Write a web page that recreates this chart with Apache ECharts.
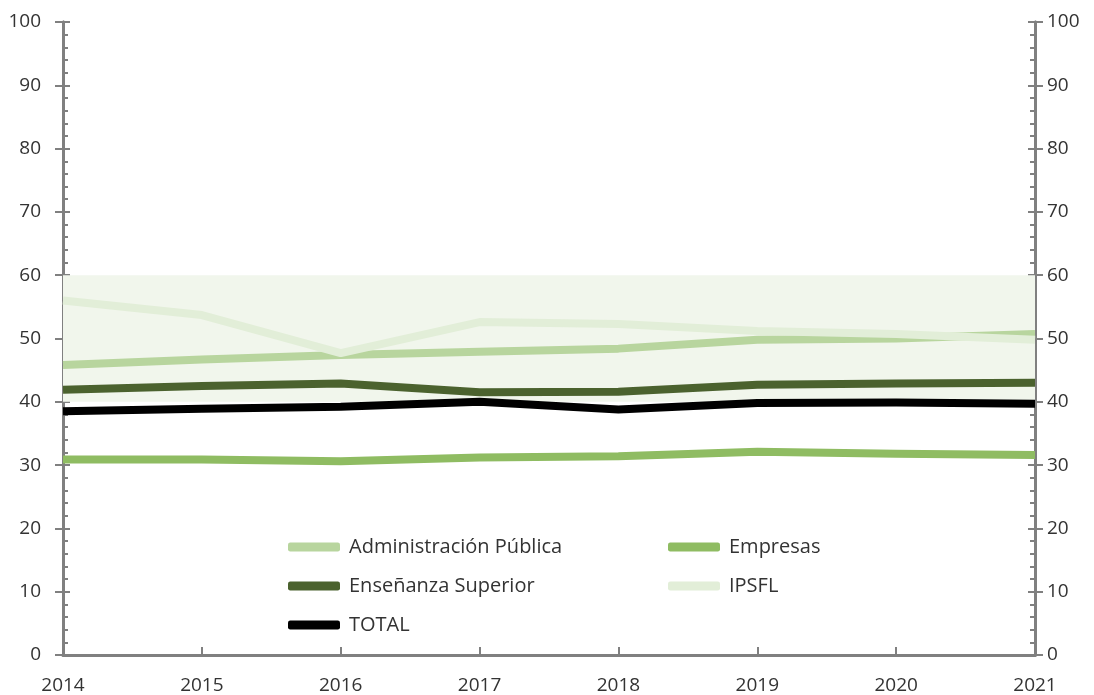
<!DOCTYPE html>
<html>
<head>
<meta charset="utf-8">
<script src="https://cdn.jsdelivr.net/npm/echarts@6/dist/echarts.min.js"></script>
<style>html,body{margin:0;padding:0;background:#fff}#c{width:1094px;height:695px}</style>
</head>
<body>
<div id="c"></div>
<script>
const years = ['2014','2015','2016','2017','2018','2019','2020','2021'];
const adminPublica = [45.8, 46.7, 47.4, 47.9, 48.4, 49.8, 50.0, 50.7];
const empresas = [30.9, 30.9, 30.6, 31.2, 31.4, 32.1, 31.8, 31.6];
const ensenanza = [41.9, 42.5, 42.9, 41.5, 41.6, 42.7, 42.9, 43.0];
const ipsfl = [56.0, 53.7, 47.7, 52.6, 52.3, 51.2, 50.7, 49.8];
const total = [38.5, 38.9, 39.2, 40.0, 38.8, 39.8, 39.9, 39.7];
const bandRange = [40, 60];

const FONT = 'Open Sans';
const GRAY = '#808080';
const TXT = '#333333';
const chart = echarts.init(document.getElementById('c'));

function line(name, data, color, extra) {
  return Object.assign({
    name, type: 'line', data, xAxisIndex: 0, yAxisIndex: 0,
    symbol: 'none', smooth: false,
    lineStyle: { width: 8, color, cap: 'butt', join: 'round' },
    itemStyle: { color }
  }, extra || {});
}

const baseY = {
  type: 'value', min: 0, max: 100, interval: 10,
  splitLine: { show: false },
  axisLine: { show: true, lineStyle: { color: GRAY, width: 3 } }
};

const legendText = { fontSize: 20, color: TXT, fontFamily: FONT, padding: [0,0,0,4] };

chart.setOption({
  animation: false,
  textStyle: { fontFamily: FONT },
  grid: { left: 63, right: 59, top: 22, bottom: 40 },
  legend: [
    {
      data: ['Administración Pública', 'Enseñanza Superior', 'TOTAL'],
      orient: 'vertical', left: 283, top: 532, itemGap: 19,
      itemWidth: 52, itemHeight: 9, icon: 'roundRect',
      textStyle: legendText
    },
    {
      data: ['Empresas', 'IPSFL'],
      orient: 'vertical', left: 663, top: 532, itemGap: 19,
      itemWidth: 52, itemHeight: 9, icon: 'roundRect',
      textStyle: legendText
    }
  ],
  xAxis: [
    {
      type: 'category', data: years, boundaryGap: false, position: 'bottom',
      axisLine: { lineStyle: { color: GRAY, width: 3 } },
      axisTick: { show: true, inside: true, length: 8, lineStyle: { color: GRAY, width: 2 } },
      axisLabel: { fontSize: 19, color: TXT, margin: 21, fontFamily: FONT },
      splitLine: { show: false }
    },
    {
      type: 'category', data: years, boundaryGap: false, position: 'top',
      axisLine: { show: true, lineStyle: { color: GRAY, width: 2 } },
      axisTick: { show: false }, axisLabel: { show: false }, splitLine: { show: false }
    }
  ],
  yAxis: [
    Object.assign({}, baseY, {
      position: 'left',
      axisTick: { show: true, inside: false, length: 8, lineStyle: { color: GRAY, width: 2 } },
      axisLabel: { fontSize: 19, color: TXT, margin: 22, fontFamily: FONT }
    }),
    Object.assign({}, baseY, {
      position: 'left',
      axisTick: { show: true, inside: true, length: 7, lineStyle: { color: GRAY, width: 2 } },
      minorTick: { show: true, splitNumber: 5, length: 5, lineStyle: { color: GRAY, width: 2 } },
      axisLabel: { show: false }
    }),
    Object.assign({}, baseY, {
      position: 'right',
      axisTick: { show: true, inside: false, length: 8, lineStyle: { color: GRAY, width: 2 } },
      axisLabel: { fontSize: 19, color: TXT, margin: 12, fontFamily: FONT }
    }),
    Object.assign({}, baseY, {
      position: 'right',
      axisTick: { show: true, inside: true, length: 7, lineStyle: { color: GRAY, width: 2 } },
      minorTick: { show: true, splitNumber: 5, length: 5, lineStyle: { color: GRAY, width: 2 } },
      axisLabel: { show: false }
    })
  ],
  series: [
    line('Administración Pública', adminPublica, '#b8d59e', {
      markArea: {
        silent: true,
        itemStyle: { color: '#f1f6ec' },
        data: [[{ yAxis: bandRange[0] }, { yAxis: bandRange[1] }]]
      }
    }),
    line('Empresas', empresas, '#8fbc62'),
    line('Enseñanza Superior', ensenanza, '#4b622e'),
    line('IPSFL', ipsfl, '#e2eed8'),
    line('TOTAL', total, '#000000')
  ]
});
</script>
</body>
</html>
